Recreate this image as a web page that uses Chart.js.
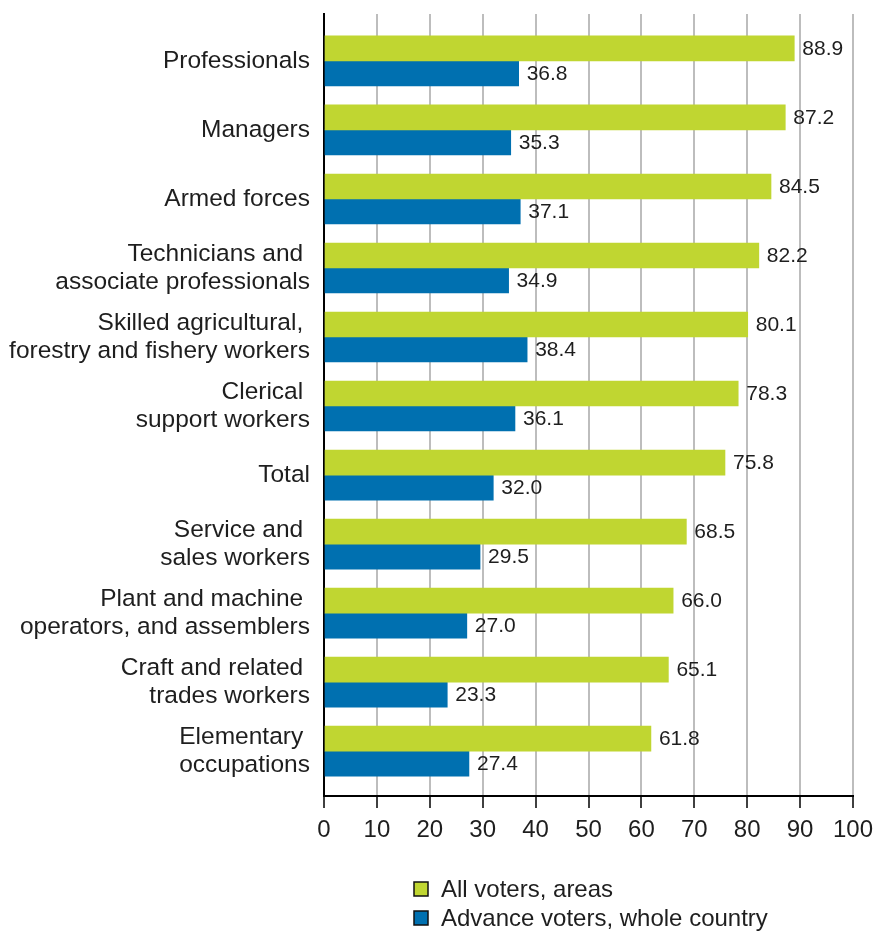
<!DOCTYPE html>
<html>
<head>
<meta charset="utf-8">
<script src="https://cdn.jsdelivr.net/npm/chart.js@4"></script>
<style>
  html, body { margin: 0; padding: 0; background: #fff; }
  canvas { display: block; }
</style>
</head>
<body>
<canvas id="chart" width="877" height="932"></canvas>
<script>
// Occupational groups, top to bottom (first lines keep a trailing space)
const categories = [
  ['Professionals'],
  ['Managers'],
  ['Armed forces'],
  ['Technicians and ', 'associate professionals'],
  ['Skilled agricultural, ', 'forestry and fishery workers'],
  ['Clerical ', 'support workers'],
  ['Total'],
  ['Service and ', 'sales workers'],
  ['Plant and machine ', 'operators, and assemblers'],
  ['Craft and related ', 'trades workers'],
  ['Elementary ', 'occupations']
];
const allVoters = [88.9, 87.2, 84.5, 82.2, 80.1, 78.3, 75.8, 68.5, 66.0, 65.1, 61.8];
const advanceVoters = [36.8, 35.3, 37.1, 34.9, 38.4, 36.1, 32.0, 29.5, 27.0, 23.3, 27.4];
const seriesNames = ['All voters, areas', 'Advance voters, whole country'];
const seriesColors = ['#c0d631', '#0070b0'];
const xTickValues = [0, 10, 20, 30, 40, 50, 60, 70, 80, 90, 100];

const FONT = '"Liberation Sans", Arial, sans-serif';
const TEXT = '#1e1e1e';

// Value written just past the end of each bar
const valueLabels = {
  id: 'valueLabels',
  afterDatasetsDraw(chart) {
    const ctx = chart.ctx;
    ctx.save();
    ctx.font = '21px ' + FONT;
    ctx.fillStyle = TEXT;
    ctx.textAlign = 'left';
    ctx.textBaseline = 'middle';
    chart.data.datasets.forEach((ds, di) => {
      chart.getDatasetMeta(di).data.forEach((bar, i) => {
        ctx.fillText(ds.data[i].x.toFixed(1), bar.x + 8, bar.y + 1);
      });
    });
    ctx.restore();
  }
};

// Stacked legend below the axis
const stackedLegend = {
  id: 'stackedLegend',
  afterDraw(chart) {
    const ctx = chart.ctx;
    ctx.save();
    ctx.font = '24px ' + FONT;
    ctx.textAlign = 'left';
    ctx.textBaseline = 'middle';
    chart.data.datasets.forEach((ds, i) => {
      const cy = 889 + i * 29;
      ctx.fillStyle = ds.backgroundColor;
      ctx.fillRect(414, cy - 7, 14, 14);
      ctx.strokeStyle = '#111';
      ctx.lineWidth = 1.5;
      ctx.strokeRect(414, cy - 7, 14, 14);
      ctx.fillStyle = TEXT;
      ctx.fillText(ds.label, 441, cy + 1);
    });
    ctx.restore();
  }
};

const toPoints = values => values.map((v, i) => ({ x: v, y: i }));

new Chart(document.getElementById('chart'), {
  type: 'bar',
  data: {
    datasets: [
      { label: seriesNames[0], data: toPoints(allVoters), backgroundColor: seriesColors[0] },
      { label: seriesNames[1], data: toPoints(advanceVoters), backgroundColor: seriesColors[1] }
    ]
  },
  plugins: [valueLabels, stackedLegend],
  options: {
    indexAxis: 'y',
    responsive: false,
    animation: false,
    devicePixelRatio: 1,
    layout: { padding: { top: 14, right: 24, left: 0, bottom: 0 } },
    datasets: { bar: { barThickness: 25, borderWidth: 0 } },
    plugins: { legend: { display: false }, tooltip: { enabled: false } },
    scales: {
      x: {
        type: 'linear',
        position: 'bottom',
        min: 0,
        max: 100,
        afterBuildTicks: s => { s.ticks = xTickValues.map(v => ({ value: v })); },
        afterFit: s => {
          s.height = 136;
          s.paddingLeft = 0;
          s.paddingRight = 0;
        },
        grid: {
          color: '#bdbdbd',
          lineWidth: 2,
          tickColor: '#000',
          tickLength: 12,
          tickWidth: 1.5
        },
        border: { color: '#000', width: 2 },
        ticks: {
          color: TEXT,
          padding: 8,
          font: { family: FONT, size: 24 },
          maxRotation: 0
        }
      },
      y: {
        type: 'linear',
        reverse: true,
        offset: false,
        bounds: 'data',
        min: -0.68,
        max: 10.65,
        afterBuildTicks: s => { s.ticks = categories.map((_, i) => ({ value: i })); },
        afterFit: s => {
          s.width = 324;
          s.paddingTop = 0;
          s.paddingBottom = 0;
        },
        grid: { display: false, drawTicks: false, offset: false },
        border: { display: true, color: '#000', width: 2 },
        ticks: {
          autoSkip: false,
          color: TEXT,
          padding: 14,
          font: { family: FONT, size: 24.5, lineHeight: 1.15 },
          callback: v => categories[v]
        }
      }
    }
  }
});
</script>
</body>
</html>
